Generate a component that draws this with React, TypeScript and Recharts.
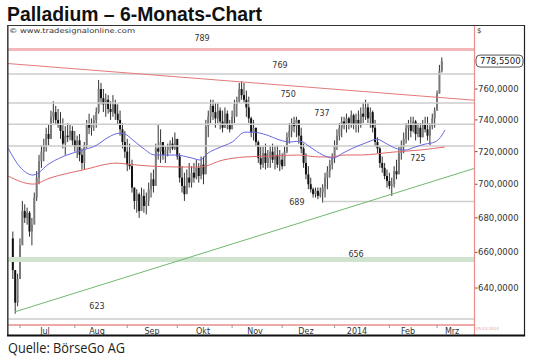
import React from 'react';
import { ComposedChart, Bar, Line, Scatter, XAxis, YAxis, ReferenceLine } from 'recharts';

// daily bars as [high, low, close]
type Hlc = [number, number, number];

const junBars: Hlc[] = [[672, 645, 650], [650, 626, 632], [648, 630, 645]];
const julBars: Hlc[] = [
  [668, 645, 664], [690, 665, 684], [688, 677, 680], [686, 676, 683], [684, 669, 672], [680, 664, 676],
  [695, 683, 692], [708, 690, 704], [718, 700, 714], [724, 710, 720], [728, 714, 724], [735, 720, 731],
  [737, 724, 728], [746, 728, 742], [752, 738, 745], [749, 737, 740], [747, 735, 737], [745, 728, 733],
  [741, 722, 725], [736, 718, 730], [738, 726, 729], [737, 727, 733], [736, 724, 727],
];
const augBars: Hlc[] = [
  [733, 720, 723], [730, 716, 727], [731, 714, 718], [722, 709, 713], [726, 709, 724], [740, 722, 737],
  [744, 731, 735], [741, 730, 738], [743, 733, 740], [748, 735, 745], [766, 744, 760], [764, 750, 754],
  [760, 745, 750], [757, 742, 753], [756, 744, 747], [752, 740, 745], [756, 742, 750], [753, 740, 744],
  [750, 737, 740], [746, 730, 734], [738, 722, 726], [733, 716, 720],
];
const sepBars: Hlc[] = [
  [728, 708, 712], [725, 709, 711], [715, 695, 698], [698, 685, 690], [697, 683, 694], [695, 680, 684],
  [698, 685, 693], [697, 683, 687], [695, 682, 690], [701, 687, 697], [707, 692, 703], [709, 695, 699],
  [725, 707, 722], [737, 715, 720], [734, 713, 726], [725, 715, 718], [723, 713, 721], [725, 717, 723],
  [727, 719, 725], [729, 721, 722], [732, 721, 728],
];
const octBars: Hlc[] = [
  [727, 715, 717], [719, 701, 704], [711, 695, 699], [707, 690, 694], [709, 695, 704], [713, 698, 701],
  [711, 698, 707], [713, 701, 704], [715, 703, 710], [713, 701, 705], [717, 703, 712], [717, 700, 706],
  [740, 710, 736], [746, 729, 742], [753, 738, 749], [753, 740, 745], [751, 735, 741], [751, 738, 746],
  [748, 734, 739], [746, 732, 735], [748, 735, 744], [746, 734, 737], [740, 732, 734],
];
const novBars: Hlc[] = [
  [746, 735, 742], [753, 738, 750], [755, 742, 752], [764, 751, 760], [765, 753, 756], [764, 751, 753],
  [759, 742, 748], [755, 738, 741], [742, 729, 732], [740, 727, 735], [735, 723, 726], [727, 713, 716],
  [723, 709, 712], [723, 710, 719], [725, 709, 713], [721, 710, 716], [723, 710, 720], [725, 713, 715],
  [723, 709, 718], [724, 710, 712], [721, 708, 715],
];
const decBars: Hlc[] = [
  [719, 709, 711], [723, 715, 720], [732, 719, 729], [738, 725, 733], [741, 729, 738], [742, 732, 736],
  [742, 729, 740], [740, 725, 730], [735, 719, 722], [725, 710, 713], [719, 703, 706], [711, 697, 700],
  [704, 695, 697], [698, 692, 694], [698, 692, 696], [698, 691, 693], [698, 692, 695], [700, 689, 698],
  [707, 692, 704], [711, 697, 708], [715, 704, 712], [719, 709, 716],
];
const janBars: Hlc[] = [
  [727, 713, 724], [734, 721, 730], [738, 727, 735], [742, 729, 739], [742, 734, 737], [744, 732, 741],
  [742, 734, 738], [746, 735, 743], [744, 734, 737], [744, 732, 740], [746, 732, 737], [748, 735, 744],
  [751, 738, 742], [753, 740, 748], [751, 738, 741], [748, 735, 745], [746, 732, 735], [740, 723, 726],
  [729, 719, 722], [723, 710, 713], [717, 707, 710], [713, 703, 705], [709, 698, 702],
];
const febBars: Hlc[] = [
  [707, 697, 699], [704, 693, 700], [711, 698, 708], [715, 703, 706], [723, 709, 719], [727, 715, 723],
  [732, 719, 728], [738, 725, 735], [740, 727, 737], [742, 729, 733], [742, 732, 739], [740, 727, 731],
  [738, 729, 735], [738, 725, 729], [740, 729, 737], [742, 732, 734], [742, 727, 730], [738, 724, 736],
  [744, 734, 741], [748, 735, 746],
];
const marBars: Hlc[] = [[759, 746, 757], [776, 757, 772], [781, 771, 778.55]];

// moving averages: [bar index, value]
const blueMa: [number, number][] = [
  [-2, 722.2], [3, 710.5], [8.5, 705.6], [15.6, 712.9], [22.7, 717.9], [29.4, 721], [35.3, 724.1],
  [39.5, 728.5], [45, 731.6], [47.1, 731], [50.4, 727.2], [54.6, 722.2], [59.6, 717.9], [68, 717.9],
  [75.2, 716], [78.5, 714.8], [81.9, 719.1], [86.1, 722.2], [92, 726], [97.4, 732.2], [100.8, 732.2],
  [106.6, 730.4], [112.1, 727.2], [116.3, 726], [120.5, 726.6], [124.7, 722.9], [130.1, 717.9],
  [134.4, 716], [138.5, 719.1], [142.7, 722.2], [145.7, 724.1], [149, 726], [152.8, 727.8],
  [156.2, 725.4], [160.4, 722.2], [164.6, 721], [168.8, 722.9], [173, 724.7], [177.1, 726],
  [180.1, 730.4], [181.3, 733.6],
];
const redMa: [number, number][] = [
  [-2, 705], [8.5, 700.1], [15.6, 703.8], [29.4, 708.7], [43.7, 712.9], [47.9, 712.3], [57.5, 711.1],
  [70.1, 710.5], [78.5, 710.5], [88.2, 714.8], [97.4, 716.7], [109.2, 717.3], [119.2, 717.9],
  [128.9, 716.7], [133.1, 716.7], [139.4, 717.9], [145.7, 717.9], [159.5, 719.7], [170.8, 721],
  [181.3, 722.9],
];

// horizontal levels and their labels
const levelValues = [786.4, 769.9, 750.9, 737.2, 723.5, 623.1];
const supportLevel = 689.7;
const bandLevel = 655.9;
const resistanceLevel = 786.4;
const levelLabels = [
  { text: '789', i: 79.4, v: 794.2 },
  { text: '769', i: 112.1, v: 775.6 },
  { text: '750', i: 115.5, v: 756.7 },
  { text: '737', i: 129.7, v: 743.8 },
  { text: '725', i: 170, v: 716 },
  { text: '689', i: 119.2, v: 689.3 },
  { text: '656', i: 144, v: 658.6 },
  { text: '623', i: 35.3, v: 629.9 },
];
const downTrend = [{ i: -2.03, v: 776.9 }, { i: 193.5, v: 752.7 }];
const upTrend = [{ i: 0.9, v: 627 }, { i: 193.5, v: 709.6 }];

const monthStarts = [3, 26, 48, 69, 92, 113, 135, 158, 178];
const monthLabels = ['Jul', 'Aug', 'Sep', 'Okt', 'Nov', 'Dez', '2014', 'Feb', 'Mrz'];
const monthLabelTicks = [13.5, 35.3, 58.4, 79.8, 101.6, 123, 144.4, 165.8, 184.3];
const priceTicks = [640, 660, 680, 700, 720, 740, 760];
const lastPrice = 778.55;

const allBars = [
  ...junBars, ...julBars, ...augBars, ...sepBars, ...octBars,
  ...novBars, ...decBars, ...janBars, ...febBars, ...marBars,
];
const data = allBars.map(([h, l, c], i) => ({
  i, h, l, c,
  o: i > 0 ? allBars[i - 1][2] : 668,
  range: [l, h],
}));
const blueData = blueMa.map(([i, v]) => ({ i, v }));
const redData = redMa.map(([i, v]) => ({ i, v }));

const FONT = '"DejaVu Sans", Verdana, sans-serif';

const Candle = (props: any) => {
  const { x, y, width, height, payload } = props;
  if (x == null || y == null || !payload) return null;
  const top = Math.min(y, y + height);
  const bot = Math.max(y, y + height);
  const lh = Math.log(payload.h);
  const ll = Math.log(payload.l);
  const pos = (v: number) => top + ((bot - top) * (lh - Math.log(v))) / (lh - ll || 1);
  const cx = x + width / 2;
  const yo = pos(payload.o);
  const yc = pos(payload.c);
  const up = payload.c >= payload.o;
  return (
    <g>
      <line x1={cx} x2={cx} y1={top} y2={bot} stroke="#333" strokeWidth={1} />
      <rect
        x={cx - 1}
        y={Math.min(yo, yc)}
        width={2}
        height={Math.max(Math.abs(yc - yo), 1)}
        fill={up ? '#7a7a7a' : '#111'}
      />
    </g>
  );
};

const XTick = (props: any) => {
  const { x, y, payload } = props;
  const v = payload.value;
  if (monthStarts.includes(v)) {
    return <line x1={x} x2={x} y1={y} y2={y + 3} stroke="#999" strokeWidth={1} />;
  }
  const k = monthLabelTicks.indexOf(v);
  return (
    <text x={x} y={y + 8.5} textAnchor="middle" fontSize={8} fill="#333" fontFamily={FONT}>
      {monthLabels[k]}
    </text>
  );
};

const fmt = (v: number) => v.toFixed(4).replace('.', ',');

const YTick = (props: any) => {
  const { x, y, payload } = props;
  const v = payload.value;
  if (Math.abs(v - lastPrice) < 0.01) {
    return (
      <g>
        <rect x={x + 2} y={y - 6} width={47} height={12} rx={4} fill="#fff" stroke="#555" strokeWidth={1} />
        <text x={x + 6} y={y} dominantBaseline="central" fontSize={8.5} fill="#222" fontFamily={FONT}>
          {fmt(v)}
        </text>
      </g>
    );
  }
  return (
    <g>
      <line x1={x + 1} x2={x + 3.5} y1={y} y2={y} stroke="#555" strokeWidth={1} />
      <text x={x + 4} y={y} dominantBaseline="central" fontSize={8.5} fill="#333" fontFamily={FONT}>
        {fmt(v)}
      </text>
    </g>
  );
};

const LevelText = (props: any) => {
  const { cx, cy, payload } = props;
  if (cx == null) return null;
  return (
    <text x={cx} y={cy} textAnchor="middle" dominantBaseline="central" fontSize={8} fill="#333" fontFamily={FONT}>
      {payload.text}
    </text>
  );
};

export default function App() {
  return (
    <div style={{ position: 'absolute', left: 0, top: 0, width: 540, height: 361, background: '#fff' }}>
      <ComposedChart
        width={540}
        height={361}
        data={data}
        margin={{ top: 26, left: 8, right: 16, bottom: 26 }}
        style={{ position: 'absolute', left: 0, top: 0 }}
      >
        <XAxis
          dataKey="i"
          type="number"
          domain={[-2.03, 193.5]}
          allowDataOverflow
          ticks={[...monthStarts, ...monthLabelTicks].sort((a, b) => a - b)}
          interval={0}
          tick={<XTick />}
          tickLine={false}
          tickSize={0}
          tickMargin={0}
          axisLine={{ stroke: '#e98c8c', strokeWidth: 1.5 }}
          height={10}
        />
        <YAxis
          orientation="right"
          scale="log"
          domain={[619.9, 802.5]}
          allowDataOverflow
          ticks={[...priceTicks, lastPrice]}
          interval={0}
          tick={<YTick />}
          tickLine={false}
          tickSize={0}
          tickMargin={0}
          axisLine={false}
          width={50}
        />
        {levelValues.map((v) => (
          <ReferenceLine
            key={v}
            y={v}
            stroke={v === resistanceLevel ? '#f3b9b9' : '#cdcdcd'}
            strokeWidth={v === resistanceLevel ? 3 : 1.5}
          />
        ))}
        <ReferenceLine y={bandLevel} stroke="#cfe3cf" strokeWidth={5} />
        <ReferenceLine
          segment={[{ x: 130.1, y: supportLevel }, { x: 193.5, y: supportLevel }]}
          stroke="#cdcdcd"
          strokeWidth={1.5}
        />
        <ReferenceLine
          segment={downTrend.map((p) => ({ x: p.i, y: p.v }))}
          stroke="#e47a7a"
          strokeWidth={1}
          ifOverflow="visible"
        />
        <ReferenceLine
          segment={upTrend.map((p) => ({ x: p.i, y: p.v }))}
          stroke="#6fb86f"
          strokeWidth={1}
          ifOverflow="visible"
        />
        <Bar dataKey="range" barSize={2} shape={<Candle />} isAnimationActive={false} />
        <Line data={redData} dataKey="v" type="monotone" stroke="#e06868" strokeWidth={1} dot={false} isAnimationActive={false} />
        <Line data={blueData} dataKey="v" type="monotone" stroke="#6868e0" strokeWidth={1} dot={false} isAnimationActive={false} />
        <Scatter data={levelLabels} dataKey="v" shape={<LevelText />} isAnimationActive={false} />
      </ComposedChart>
      <svg width={540} height={361} style={{ position: 'absolute', left: 0, top: 0, pointerEvents: 'none' }}>
        <text x={7} y={20.5} fontSize={20} fontWeight="bold" fill="#111" fontFamily='"Liberation Sans", Arial, sans-serif' textLength={255} lengthAdjust="spacingAndGlyphs">
          Palladium – 6-Monats-Chart
        </text>
        <text x={8} y={352.5} fontSize={15} fill="#222" fontFamily='"Open Sans", sans-serif' textLength={117} lengthAdjust="spacingAndGlyphs">
          Quelle: BörseGo AG
        </text>
        <text x={9} y={32.5} fontSize={6.8} fill="#333" fontFamily={FONT} textLength={126} lengthAdjust="spacingAndGlyphs">
          © www.tradesignalonline.com
        </text>
        <text x={477} y={32.5} fontSize={7} fill="#333" fontFamily={FONT}>$</text>
        <text x={476} y={329.5} fontSize={4} fill="#e6a0a0" fontFamily={FONT}>05.03.2014</text>
        <line x1={474.5} x2={474.5} y1={26} y2={335} stroke="#e98c8c" strokeWidth={1.2} />
        <line x1={7} x2={525} y1={25.5} y2={25.5} stroke="#333" strokeWidth={1} />
        <line x1={7.8} x2={7.8} y1={25} y2={336} stroke="#444" strokeWidth={1.6} />
        <line x1={524.5} x2={524.5} y1={25} y2={336} stroke="#222" strokeWidth={1.2} />
        <line x1={7} x2={525.1} y1={335.5} y2={335.5} stroke="#111" strokeWidth={1.8} />
      </svg>
    </div>
  );
}
